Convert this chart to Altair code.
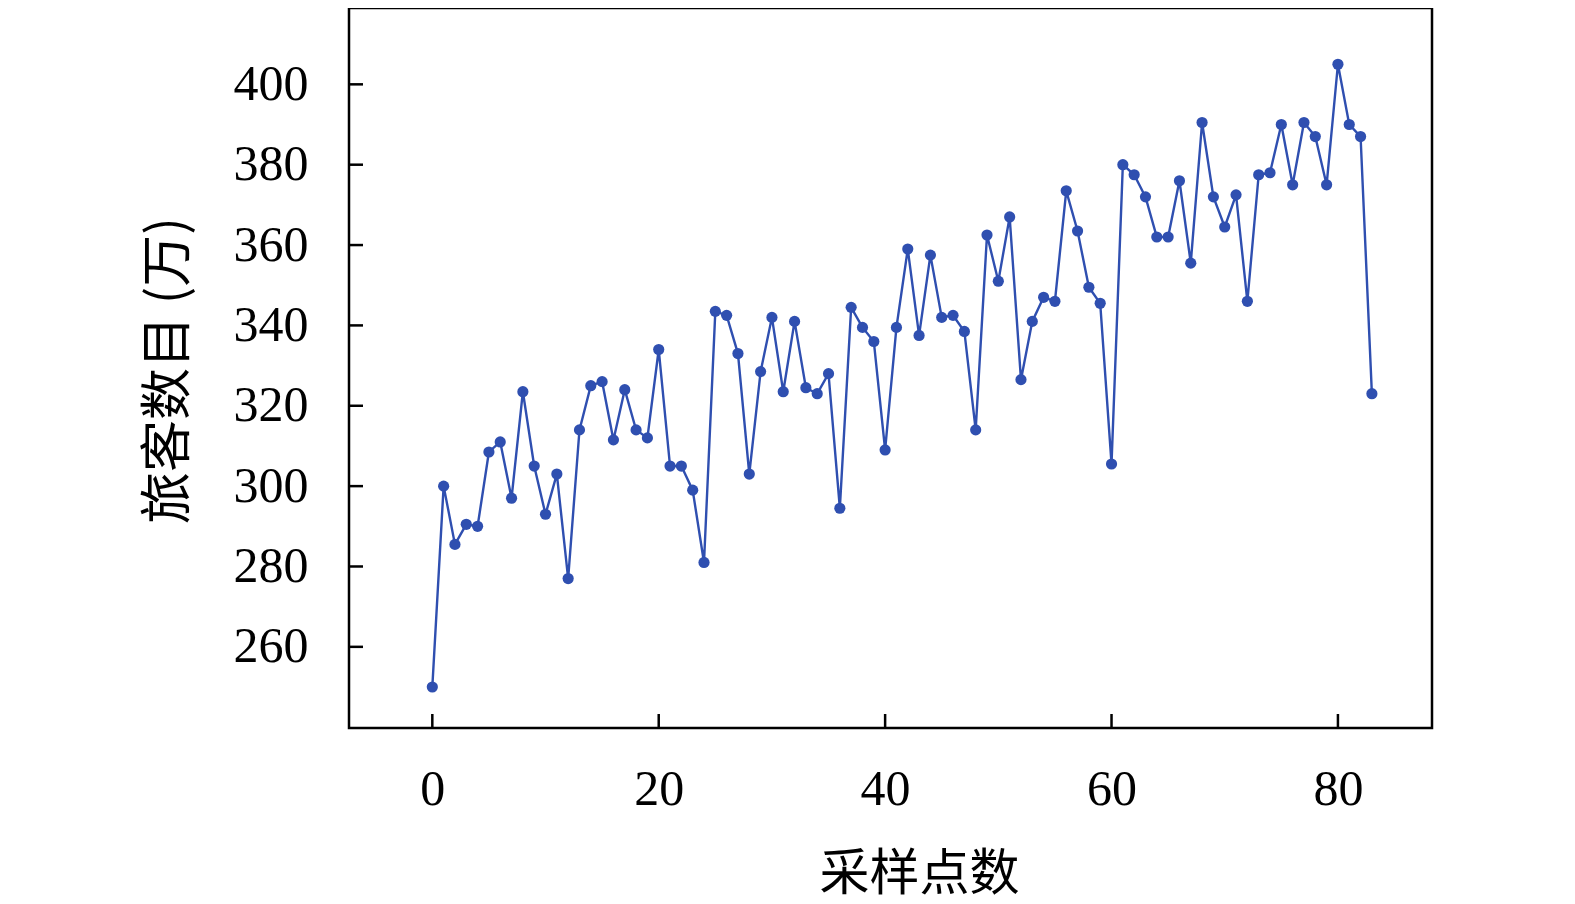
import altair as alt
import pandas as pd

# sample index (采样点数)
sample_idx = list(range(84))
# passengers (旅客数目, 万)
passengers = [
    250, 300, 285.5, 290.5, 290, 308.5, 311, 297, 323.5, 305,
    293, 303, 277, 314, 325, 326, 311.5, 324, 314, 312,
    334, 305, 305, 299, 281, 343.5, 342.5, 333, 303, 328.5,
    342, 323.5, 341, 324.5, 323, 328, 294.5, 344.5, 339.5, 336,
    309, 339.5, 359, 337.5, 357.5, 342, 342.5, 338.5, 314, 362.5,
    351, 367, 326.5, 341, 347, 346, 373.5, 363.5, 349.5, 345.5,
    305.5, 380, 377.5, 372, 362, 362, 376, 355.5, 390.5, 372,
    364.5, 372.5, 346, 377.5, 378, 390, 375, 390.5, 387, 375,
    405, 390, 387, 323,
]
x_ticks = [0, 20, 40, 60, 80]
y_ticks = [260, 280, 300, 320, 340, 360, 380, 400]

W, H = 1083, 720
BLUE = "#2F4FB0"
SERIF = "Liberation Serif"
CJK = "Noto Sans CJK SC"

df = pd.DataFrame({"n": sample_idx, "v": passengers})
xs = alt.Scale(domain=[-7.36, 88.31], nice=False, zero=False)
ys = alt.Scale(domain=[239.8, 419.0], nice=False, zero=False)

x_axis = alt.Axis(
    values=x_ticks, title="采样点数", grid=False, domain=False, ticks=False, tickSize=0,
    labelFont=SERIF, labelFontSize=50, labelColor="black", labelPadding=36,
    titleFont=CJK, titleFontSize=50, titleFontWeight="normal", titleColor="black",
    titleX=570, titleY=161, titleAlign="center", titleBaseline="alphabetic",
)
y_axis = alt.Axis(
    values=y_ticks, title="旅客数目 (万)", grid=False, domain=False, ticks=False, tickSize=0,
    labelFont=SERIF, labelFontSize=50, labelColor="black", labelPadding=41,
    titleFont=CJK, titleFontSize=52, titleFontWeight="normal", titleColor="black",
    titleX=-165, titleY=362, titleAlign="center", titleBaseline="alphabetic",
)

base = alt.Chart(df)
line = base.mark_line(color=BLUE, strokeWidth=2.4).encode(
    x=alt.X("n:Q", scale=xs, axis=x_axis),
    y=alt.Y("v:Q", scale=ys, axis=y_axis),
)
pts = base.mark_circle(color=BLUE, size=125, opacity=1).encode(
    x=alt.X("n:Q", scale=xs, axis=x_axis),
    y=alt.Y("v:Q", scale=ys, axis=y_axis),
)

xt = alt.Chart(pd.DataFrame({"n": x_ticks})).mark_rule(color="black", strokeWidth=2.5).encode(
    x=alt.X("n:Q", scale=xs, axis=x_axis),
    y=alt.value(H),
    y2=alt.value(H - 14),
)
yt = alt.Chart(pd.DataFrame({"v": y_ticks})).mark_rule(color="black", strokeWidth=2.5).encode(
    y=alt.Y("v:Q", scale=ys, axis=y_axis),
    x=alt.value(0),
    x2=alt.value(14),
)

chart = alt.layer(line, pts, xt, yt).properties(
    width=W,
    height=H,
    autosize=alt.AutoSizeParams(type="none"),
    padding={"left": 341, "top": 0, "right": 120, "bottom": 176},
    background="white",
).configure_view(stroke="black", strokeWidth=2.5)

chart.save("out.html", embed_options={"renderer": "svg", "actions": False})
